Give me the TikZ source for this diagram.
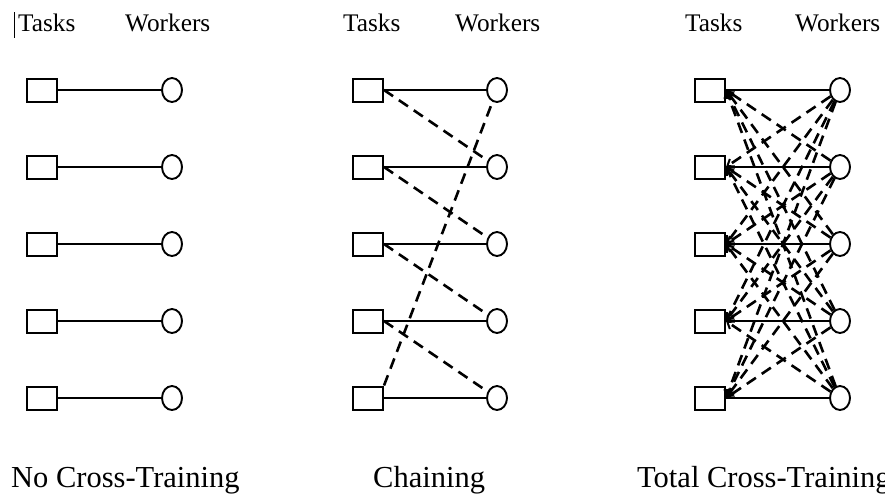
\documentclass[tikz,border=0pt]{standalone}
\usepackage{fontspec}
\setmainfont{Liberation Serif}
\usetikzlibrary{shapes.geometric,arrows.meta}
\begin{document}
\begin{tikzpicture}[x=1pt,y=-1pt,
  task/.style={draw,line width=2pt,minimum width=30pt,minimum height=23pt,inner sep=0pt},
  worker/.style={draw,ellipse,line width=1.9pt,minimum width=20pt,minimum height=24pt,inner sep=0pt},
  link/.style={line width=1.7pt},
  cross/.style={line width=2.6pt,dash pattern=on 11pt off 7pt},
  crossarrow/.style={cross,-{Straight Barb[length=6pt,width=9pt,line width=2pt]}},
  head/.style={inner sep=0pt,anchor=base west,font=\fontsize{25.3}{29}\selectfont},
  caption/.style={inner sep=0pt,anchor=base west,font=\fontsize{30.5}{35}\selectfont}]
\useasboundingbox (0,0) rectangle (885,493);

% column headings
\node[head] (h1t) at (18,31) {Tasks};
\node[head] (h1w) at (125,31) {Workers};
\node[head] (h2t) at (343,31) {Tasks};
\node[head] (h2w) at (455,31) {Workers};
\node[head] (h3t) at (685,31) {Tasks};
\node[head] (h3w) at (795,31) {Workers};
\coordinate (bar1) at (14,12);
\coordinate (bar2) at (14,38);
\draw[line width=1pt] (bar1) -- (bar2);

% tasks and workers of the three layouts
\foreach \i/\y in {1/90,2/167,3/244,4/321,5/398}{
  \node[task] (p1s\i) at (42,\y) {};
  \node[worker] (p1w\i) at (172,\y) {};
  \node[task] (p2s\i) at (368,\y) {};
  \node[worker] (p2w\i) at (497,\y) {};
  \node[task] (p3s\i) at (710,\y) {};
  \node[worker] (p3w\i) at (840,\y) {};
  \draw[link] (p1s\i) -- (p1w\i);
  \draw[link] (p2s\i) -- (p2w\i);
  \draw[link] (p3s\i) -- (p3w\i);
}

% chaining: each task also served by the next worker
\foreach \i/\j in {1/2,2/3,3/4,4/5}{
  \draw[cross] (p2s\i.east) -- (p2w\j);
}
\draw[cross] (p2s5.north east) -- (p2w1);

% total cross-training: every worker serves every task
\foreach \i in {1,...,5}{
  \foreach \j in {1,...,5}{
    \ifnum\i=\j\else
      \draw[crossarrow] (p3w\j) -- (p3s\i.east);
    \fi
  }
}

% captions
\node[caption] (c1) at (11,487) {No Cross-Training};
\node[caption] (c2) at (373,487) {Chaining};
\node[caption] (c3) at (637,487) {Total Cross-Training};
\end{tikzpicture}
\end{document}
